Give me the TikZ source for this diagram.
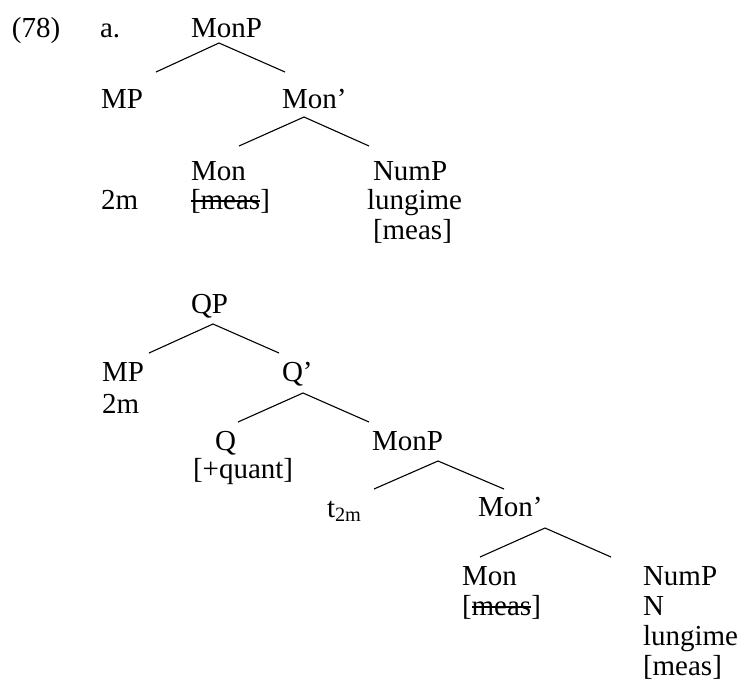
\documentclass[tikz,border=0pt]{standalone}
\usepackage{fontspec}
\setmainfont{Liberation Serif}
\newcommand\strikeit[1]{\setbox0=\hbox{#1}\rlap{\rule[0.25em]{\wd0}{0.05em}}\box0}
\tikzset{
  lbl/.style={anchor=base west, inner sep=0pt, outer sep=0pt, font=\fontsize{29}{30}\selectfont},
  br/.style={line width=1.1pt}
}
\begin{document}
\begin{tikzpicture}[x=1pt,y=-1pt]
\useasboundingbox (0,0) rectangle (743,689);
% ---- tree a ----
\node[lbl] (num) at (12,37) {(78)};
\node[lbl] (a) at (100,37) {a.};
\node[lbl] (monpA) at (191,37) {MonP};
\node[lbl] (mpA) at (101,108) {MP};
\node[lbl] (monbarA) at (282,108) {Mon’};
\node[lbl] (monA) at (191,180) {Mon};
\node[lbl] (twomA) at (101,209) {2m};
\node[lbl] (measA) at (191,209) {\strikeit{[meas}]};
\node[lbl] (numpA) at (373,180) {NumP};
\node[lbl] (lungA) at (367,209) {lungime};
\node[lbl] (measA2) at (373,239) {[meas]};
\coordinate (a1) at (219,43);
\coordinate (a1l) at (156,72);
\coordinate (a1r) at (285,72);
\coordinate (a2) at (304,117);
\coordinate (a2l) at (239,146);
\coordinate (a2r) at (369,146);
\draw[br] (a1l) -- (a1) -- (a1r);
\draw[br] (a2l) -- (a2) -- (a2r);
% ---- tree b ----
\node[lbl] (qp) at (191,313) {QP};
\node[lbl] (mpB) at (102,381) {MP};
\node[lbl] (twomB) at (102,413) {2m};
\node[lbl] (qbar) at (282,381) {Q’};
\node[lbl] (q) at (215,450) {Q};
\node[lbl] (quant) at (193,478) {[+quant]};
\node[lbl] (monpB) at (372,450) {MonP};
\node[lbl] (trace) at (327,517) {t\textsubscript{2m}};
\node[lbl] (monbarB) at (478,516) {Mon’};
\node[lbl] (monB) at (462,585) {Mon};
\node[lbl] (measB) at (462,615) {[\strikeit{meas}]};
\node[lbl] (numpB) at (643,585) {NumP};
\node[lbl] (nB) at (643,615) {N};
\node[lbl] (lungB) at (643,645) {lungime};
\node[lbl] (measB2) at (643,675) {[meas]};
\coordinate (b1) at (213,324);
\coordinate (b1l) at (149,353);
\coordinate (b1r) at (279,353);
\coordinate (b2) at (303,393);
\coordinate (b2l) at (238,422);
\coordinate (b2r) at (369,422);
\coordinate (b3) at (438,461);
\coordinate (b3l) at (374,489);
\coordinate (b3r) at (504,489);
\coordinate (b4) at (545,528);
\coordinate (b4l) at (480,557);
\coordinate (b4r) at (611,557);
\draw[br] (b1l) -- (b1) -- (b1r);
\draw[br] (b2l) -- (b2) -- (b2r);
\draw[br] (b3l) -- (b3) -- (b3r);
\draw[br] (b4l) -- (b4) -- (b4r);
\end{tikzpicture}
\end{document}
